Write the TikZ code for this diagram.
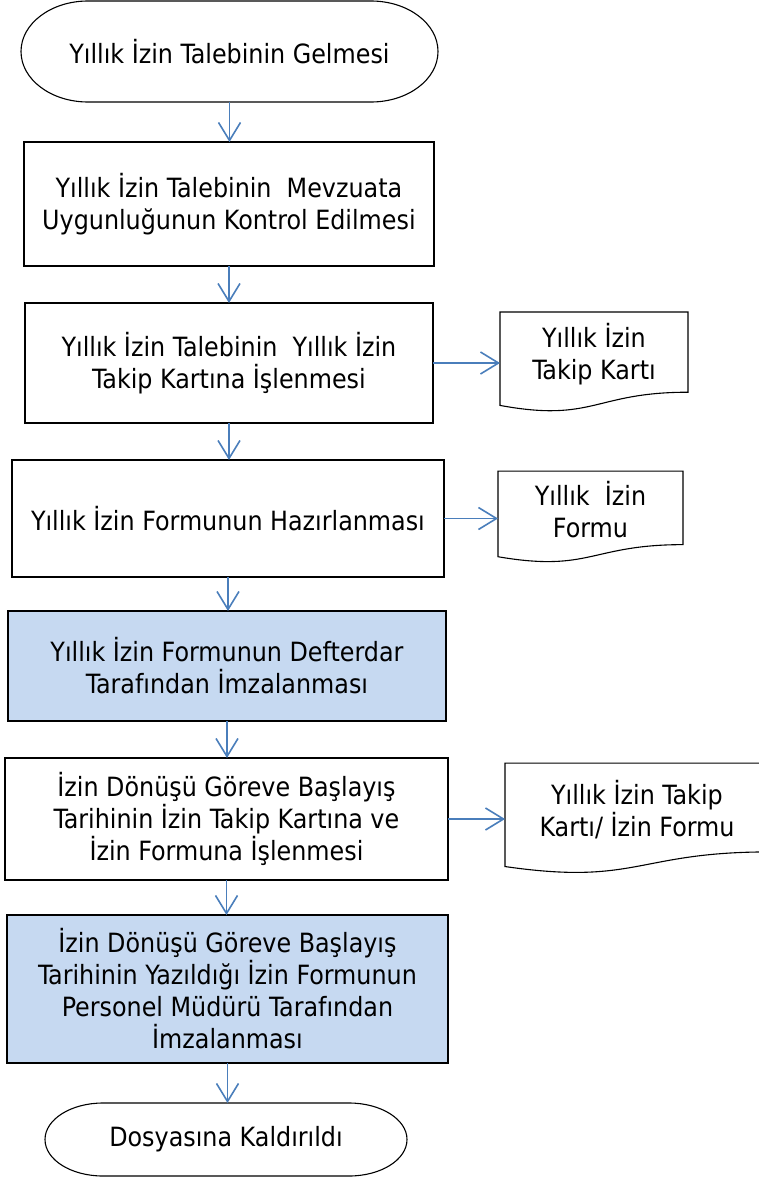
\documentclass[tikz,border=0pt]{standalone}
\usepackage{fontspec}
\setmainfont{DejaVu Sans Condensed}
\usetikzlibrary{calc,arrows.meta}
\definecolor{okmavi}{RGB}{74,126,187}
\definecolor{dolgu}{RGB}{198,217,241}
\tikzset{
  yazi/.style={align=center, font=\fontsize{26.5}{32}\selectfont, inner sep=2pt, outer sep=0pt},
  kutu/.style={yazi, draw, line width=1.1pt},
  onay/.style={kutu, fill=dolgu},
  ok/.style={draw=okmavi, line width=1.6pt, -{Straight Barb[length=18pt,width=22pt]}},
}
% belge (document) outline round a node
\newcommand{\belge}[1]{%
  \draw[line width=1.1pt] (#1.north west) -- (#1.north east)
    -- ($(#1.north east)!0.955!(#1.south east)$)
    .. controls ($(#1.north)!0.955!(#1.south)$) and ($(#1.north)!1.318!(#1.south)$)
    .. ($(#1.north west)!1.112!(#1.south west)$) -- cycle;}
% terminal outline: node, x radius, y radius
\newcommand{\uc}[3]{%
  \draw[line width=1.1pt] ($(#1.north west)+(#2,0)$) -- ($(#1.north east)-(#2,0)$)
    arc[start angle=90, end angle=-90, x radius=#2, y radius=#3]
    -- ($(#1.south west)+(#2,0)$)
    arc[start angle=270, end angle=90, x radius=#2, y radius=#3] -- cycle;}

\begin{document}
\begin{tikzpicture}[x=1pt, y=1pt]
  \useasboundingbox (0,0) rectangle (759,-1180);

  \node [yazi, minimum width=417, minimum height=101] at (229.5,-51.5) (baslangic) {Yıllık İzin Talebinin Gelmesi};
  \node [kutu, minimum width=410, minimum height=124] at (229,-204) (mevzuat) {Yıllık İzin Talebinin \ Mevzuata\\Uygunluğunun Kontrol Edilmesi};
  \node [kutu, minimum width=408, minimum height=120] at (229,-363) (kart) {Yıllık İzin Talebinin \ Yıllık İzin\\Takip Kartına İşlenmesi};
  \node [yazi, minimum width=188, minimum height=84] at (594,-354) (belgekart) {Yıllık İzin\\Takip Kartı};
  \node [kutu, minimum width=432, minimum height=117] at (228,-518.5) (form) {Yıllık İzin Formunun Hazırlanması};
  \node [yazi, minimum width=185, minimum height=77] at (590.5,-509.6) (belgeform) {Yıllık \ İzin\\Formu};
  \node [onay, minimum width=438, minimum height=110] at (227,-666) (defterdar) {Yıllık İzin Formunun Defterdar\\Tarafından İmzalanması};
  \node [kutu, minimum width=443, minimum height=122] at (226.5,-819) (donus) {İzin Dönüşü Göreve Başlayış\\Tarihinin İzin Takip Kartına ve\\İzin Formuna İşlenmesi};
  \node [yazi, minimum width=264, minimum height=93] at (637,-809.6) (belgeikisi) {Yıllık İzin Takip\\Kartı/ İzin Formu};
  \node [onay, minimum width=441, minimum height=148] at (227.5,-989) (mudur) {İzin Dönüşü Göreve Başlayış\\Tarihinin Yazıldığı İzin Formunun\\Personel Müdürü Tarafından\\İmzalanması};
  \node [yazi, minimum width=362, minimum height=73] at (226,-1139.5) (bitis) {Dosyasına Kaldırıldı};

  \uc{baslangic}{67}{50.5}
  \uc{bitis}{58}{36.5}
  \belge{belgekart}
  \belge{belgeform}
  \belge{belgeikisi}

  \draw [ok] (baslangic.south) -- (baslangic.south |- mevzuat.north);
  \draw [ok] (mevzuat.south) -- (mevzuat.south |- kart.north);
  \draw [ok] (kart.south) -- (kart.south |- form.north);
  \draw [ok] (form.south) -- (form.south |- defterdar.north);
  \draw [ok] (defterdar.south) -- (defterdar.south |- donus.north);
  \draw [ok] (donus.south) -- (donus.south |- mudur.north);
  \draw [ok] (mudur.south) -- (mudur.south |- bitis.north);

  \draw [ok] (kart.east) -- (kart.east -| belgekart.west);
  \draw [ok] (form.east) -- (form.east -| belgeform.west);
  \draw [ok] (donus.east) -- (donus.east -| belgeikisi.west);
\end{tikzpicture}
\end{document}
